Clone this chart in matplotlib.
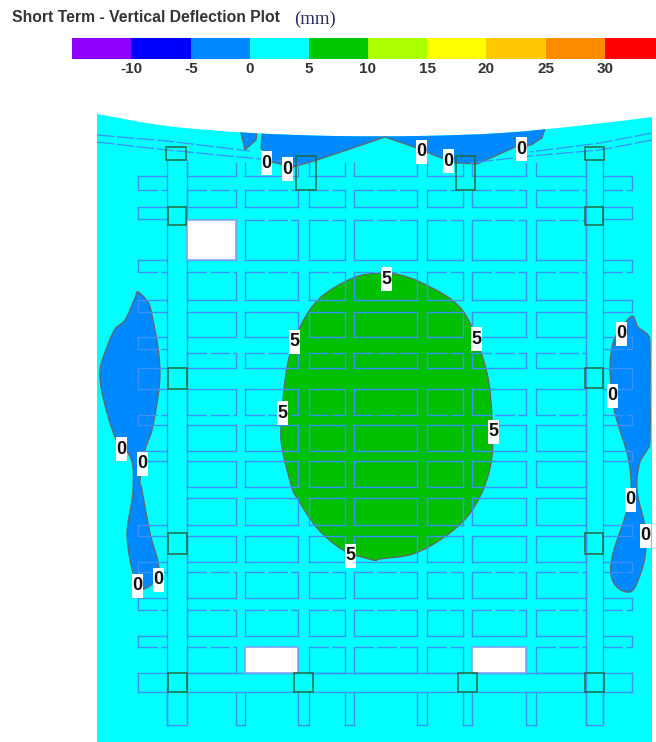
import matplotlib
matplotlib.use('Agg')
import matplotlib.pyplot as plt
from matplotlib.patches import PathPatch, Polygon, Rectangle
from matplotlib.path import Path

# ===== データ =====
band_labels = ['-10', '-5', '0', '5', '10', '15', '20', '25', '30']
band_colors = ['#8f00ff', '#0000ff', '#0088ff', '#00ffff', '#00c800',
               '#aaff00', '#ffff00', '#ffc800', '#ff8c00', '#ff0000']
band_edges = [72, 131, 191, 250, 309, 368, 427, 486, 546, 605, 656]

slab_top = [(97, 114), (167, 126), (251, 133), (335, 136), (418, 136),
            (502, 133), (586, 125), (652, 117)]

top_zero = [(239, 125), (245, 150), (256, 140), (258, 125), (263, 125),
            (261, 148), (272, 162), (293, 167), (314, 161), (347, 150),
            (385, 137), (414, 147), (439, 157), (456, 163), (477, 164),
            (502, 153), (515, 147), (531, 145), (542, 138), (546, 125)]
left_zero = [(138, 292), (148, 302), (152, 315), (158, 347), (160, 373),
             (158, 397), (152, 430), (145, 450), (140, 480), (142, 490),
             (150, 533), (158, 562), (158, 578), (142, 589), (133, 573),
             (127, 535), (132, 500), (133, 490), (133, 467), (128, 453),
             (115, 437), (103, 397), (100, 370), (107, 347), (115, 329),
             (125, 320), (135, 298)]
right_zero = [(632, 316), (638, 327), (648, 335), (650, 345), (650, 390),
              (650, 440), (647, 450), (640, 462),
              (637, 480), (638, 497), (645, 527), (645, 557), (637, 583),
              (630, 592), (618, 588), (611, 575), (613, 553), (625, 517),
              (631, 490), (628, 457), (615, 413), (610, 370), (613, 343),
              (620, 330)]
center_five = [(400, 275), (380, 273), (353, 278), (320, 298), (300, 327),
               (287, 367), (281, 427), (283, 453), (292, 488), (297, 498),
               (317, 528), (343, 550), (373, 560), (380, 559), (413, 554),
               (443, 538), (467, 517), (483, 490), (492, 457), (492, 417),
               (487, 373), (470, 323), (452, 300), (420, 282)]

upper_lines = [[(97, 135), (167, 141), (250, 151)],
               [(97, 142), (167, 150), (250, 158), (300, 163)],
               [(652, 133), (600, 143), (530, 152)],
               [(652, 140), (600, 150), (530, 156), (470, 163)]]

columns = [(187, 236), (245, 298), (309, 345), (354, 417), (427, 463),
           (472, 526), (536, 586)]
main_rows = [(190, 207), (220, 260), (272, 300), (312, 337), (353, 368),
             (389, 415), (425, 451), (461, 487), (498, 525), (536, 562),
             (572, 598), (610, 636), (647, 673)]
stub_rows = [(176, 190), (207, 219), (260, 272), (300, 312), (337, 349),
             (368, 389), (415, 425), (451, 461), (525, 536), (562, 572),
             (598, 610), (636, 647), (673, 692)]
dashed_edges = [190, 220, 272, 349, 353, 415, 572, 610, 647]
bottom_stubs = [(167, 187), (236, 245), (298, 309), (345, 354), (417, 427),
                (463, 472), (526, 536), (586, 603)]
holes = [(187, 220, 49, 40), (245, 647, 53, 26), (472, 647, 54, 26)]
piers = [(166, 147, 20, 13), (296, 156, 20, 34), (456, 156, 19, 34),
         (585, 147, 19, 13), (168, 207, 18, 18), (585, 207, 18, 18),
         (168, 368, 19, 21), (585, 368, 18, 20), (168, 533, 19, 21),
         (585, 533, 18, 21), (168, 673, 19, 19), (294, 673, 19, 19),
         (458, 673, 19, 19), (585, 673, 19, 19)]

zero_labels = [(266, 163), (287, 169), (421, 152), (448, 161), (521, 149),
               (121, 449), (142, 464), (137, 586), (158, 580), (621, 334),
               (612, 396), (630, 500), (645, 536)]
five_labels = [(386, 279), (294, 342), (476, 339), (282, 413), (493, 432),
               (350, 556)]

# ===== 設定 =====
line_color = '#3a92fa'
edge_gray = '#666666'
pier_color = '#1f6b3f'

plt.rcParams['font.family'] = ['Liberation Sans', 'DejaVu Sans']
fig = plt.figure(figsize=(6.56, 7.42), dpi=100)
ax = fig.add_axes([0, 0, 1, 1])
ax.set_xlim(0, 656)
ax.set_ylim(742, 0)
ax.axis('off')


def smooth_path(pts):
    """読み取った点を通る閉じたベジェ曲線"""
    n = len(pts)
    verts = [pts[0]]
    codes = [Path.MOVETO]
    for i in range(n):
        p0, p1, p2, p3 = pts[i - 1], pts[i], pts[(i + 1) % n], pts[(i + 2) % n]
        verts.append((p1[0] + (p2[0] - p0[0]) / 6, p1[1] + (p2[1] - p0[1]) / 6))
        verts.append((p2[0] - (p3[0] - p1[0]) / 6, p2[1] - (p3[1] - p1[1]) / 6))
        verts.append(p2)
        codes += [Path.CURVE4] * 3
    return Path(verts, codes)


def open_curve(pts):
    """上端の曲線（開いた形）"""
    verts = [pts[0]]
    codes = [Path.MOVETO]
    n = len(pts)
    for i in range(n - 1):
        p0, p1, p2, p3 = pts[max(i - 1, 0)], pts[i], pts[i + 1], pts[min(i + 2, n - 1)]
        verts.append((p1[0] + (p2[0] - p0[0]) / 6, p1[1] + (p2[1] - p0[1]) / 6))
        verts.append((p2[0] - (p3[0] - p1[0]) / 6, p2[1] - (p3[1] - p1[1]) / 6))
        verts.append(p2)
        codes += [Path.CURVE4] * 3
    return verts, codes


# タイトルとカラーバー
ax.text(12, 18, 'Short Term - Vertical Deflection Plot', fontsize=11.3,
        fontweight='bold', color='#333333', va='center')
ax.text(294, 19, '(mm)', fontsize=13.5, family='Liberation Serif',
        color='#2d2d5f', va='center')
for i, c in enumerate(band_colors):
    ax.add_patch(Rectangle((band_edges[i], 38), band_edges[i + 1] - band_edges[i], 21,
                           fc=c, ec='none'))
for x, lab in zip(band_edges[1:], band_labels):
    ax.text(x, 69, lab, fontsize=11, fontweight='bold', color='#333333',
            ha='center', va='center')

# スラブと等高線
verts, codes = open_curve(slab_top)
verts += [(652, 742), (97, 742), (97, 114)]
codes += [Path.LINETO] * 3
slab = PathPatch(Path(verts, codes), fc='#00ffff', ec='none', zorder=1)
ax.add_patch(slab)

p = Polygon(top_zero, fc='#0088ff', ec=edge_gray, lw=0.9, zorder=2)
ax.add_patch(p)
p.set_clip_path(slab)
for pts, c in [(left_zero, '#0088ff'), (right_zero, '#0088ff'), (center_five, '#00c000')]:
    ax.add_patch(PathPatch(smooth_path(pts), fc=c, ec=edge_gray, lw=0.9, zorder=2))

for pts in upper_lines:
    ax.plot(*zip(*pts), color=line_color, lw=0.9, zorder=3, ls=(0, (14, 2)))


# 梁グリッド
def hline(y, x0, x1):
    ls = (0, (14, 2.5)) if y in dashed_edges else '-'
    ax.plot([x0, x1], [y, y], color=line_color, lw=1.0, ls=ls, zorder=3)


def vline(x, y0, y1):
    ax.plot([x, x], [y0, y1], color=line_color, lw=1.0, zorder=3)


for y0, y1 in main_rows:
    for x0, x1 in columns:
        hline(y0, x0, x1)
        hline(y1, x0, x1)
        vline(x0, y0, y1)
        vline(x1, y0, y1)

for y0, y1 in stub_rows:
    for x0, x1 in [(138, 167), (603, 632)]:
        hline(y0, x0, x1)
        hline(y1, x0, x1)
    vline(138, y0, y1)
    vline(632, y0, y1)

for x0, x1 in columns:
    hline(176, x0, x1)
    vline(x0, 163, 176)
    vline(x1, 163, 176)

for x in [167, 187, 586, 603]:
    vline(x, 160, 725)

for x0, x1 in [(187, 294), (313, 458), (477, 585)]:
    hline(673, x0, x1)
    hline(692, x0, x1)

for x0, x1 in bottom_stubs:
    vline(x0, 692, 725)
    vline(x1, 692, 725)
    hline(725, x0, x1)

for x, y, w, h in holes:
    ax.add_patch(Rectangle((x, y), w, h, fc='white', ec='#7aa8f5', lw=1.2, zorder=4))
for x, y, w, h in piers:
    ax.add_patch(Rectangle((x, y), w, h, fc='none', ec=pier_color, lw=1.1, zorder=5))

# 等高線ラベル
for pts, lab in [(zero_labels, '0'), (five_labels, '5')]:
    for x, y in pts:
        ax.add_patch(Rectangle((x - 5.5, y - 12), 11, 24, fc='white', ec='none', zorder=6))
        ax.text(x, y, lab, fontsize=13, fontweight='bold', color='#111111',
                ha='center', va='center', zorder=7)

fig.savefig('out.png', dpi=100)
